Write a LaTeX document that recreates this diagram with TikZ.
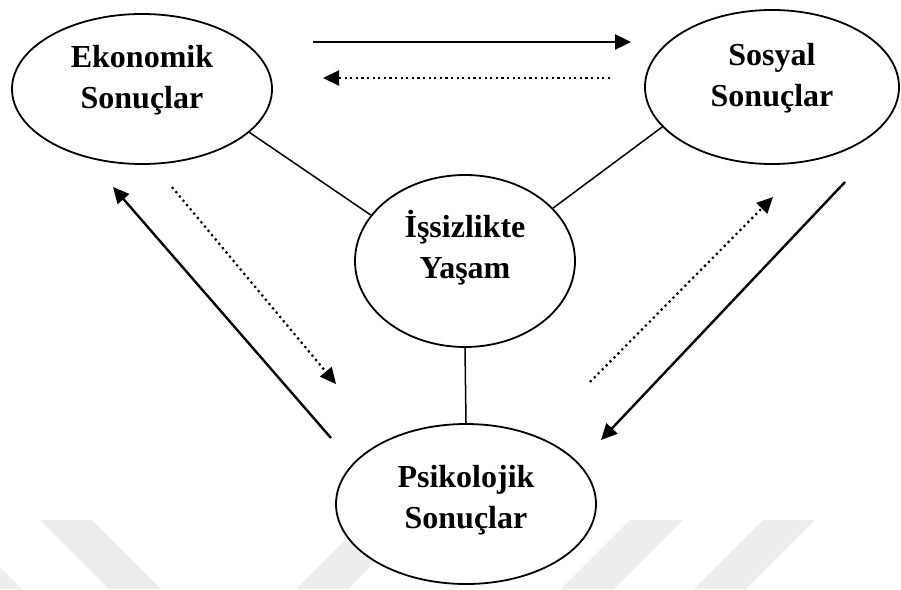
\documentclass[tikz,border=0pt]{standalone}
\usepackage{fontspec}
\setmainfont{Liberation Serif}
\usetikzlibrary{arrows.meta,shapes.geometric}

\begin{document}
\begin{tikzpicture}[x=1pt,y=-1pt,
    link/.style={line width=1.5pt},
    flow/.style={line width=2.4pt,-{Triangle[length=16pt,width=15pt]}},
    backflow/.style={flow,line width=2.2pt,dash pattern=on 2.2pt off 3.4pt}]

  \useasboundingbox (0,0) rectangle (901,589);

  % faint marks at the bottom
  \begin{scope}[fill=black!7]
    \fill (40,520) -- (92,520) -- (161,589) -- (109,589) -- cycle;
    \fill (365,520) -- (417,520) -- (348,589) -- (296,589) -- cycle;
    \fill (630,520) -- (683,520) -- (614,589) -- (561,589) -- cycle;
    \fill (763,520) -- (815,520) -- (746,589) -- (694,589) -- cycle;
    \fill (0,567) -- (22,589) -- (0,589) -- cycle;
  \end{scope}

  \begin{scope}[every node/.style={ellipse,draw,line width=1.8pt,fill=white,
      inner sep=0pt,align=center,text height=66pt,
      font=\fontsize{32}{41}\selectfont\bfseries}]
    \node[minimum width=260pt,minimum height=150pt,text depth=28pt] (eko) at (142,89)  {Ekonomik\\Sonuçlar};
    \node[minimum width=254pt,minimum height=154pt,text depth=28pt] (sos) at (772,87)  {Sosyal\\Sonuçlar};
    \node[minimum width=220pt,minimum height=172pt,text depth=32pt] (yas) at (465,261) {İşsizlikte\\Yaşam};
    \node[minimum width=260pt,minimum height=160pt,text depth=18pt] (psi) at (466,504) {Psikolojik\\Sonuçlar};
  \end{scope}

  \begin{scope}[every edge/.style={draw,link}]
    \path (eko.-22)    edge (yas.154);
    \path (sos.200)    edge (yas.31);
    \path (yas.south)  edge (psi.north);
  \end{scope}

  % arrows between the outer ellipses
  \coordinate (es1) at (313,42);  \coordinate (es2) at (631,42);
  \coordinate (se1) at (610,78);  \coordinate (se2) at (323,78);
  \coordinate (pe1) at (331,438); \coordinate (pe2) at (113,187);
  \coordinate (ep1) at (172,187); \coordinate (ep2) at (336,384);
  \coordinate (ps1) at (590,382); \coordinate (ps2) at (773,197);
  \coordinate (sp1) at (845,182); \coordinate (sp2) at (601,440);

  \draw[flow]     (es1) -- (es2);
  \draw[backflow] (se1) -- (se2);
  \draw[flow]     (pe1) -- (pe2);
  \draw[backflow] (ep1) -- (ep2);
  \draw[backflow] (ps1) -- (ps2);
  \draw[flow]     (sp1) -- (sp2);

\end{tikzpicture}
\end{document}
